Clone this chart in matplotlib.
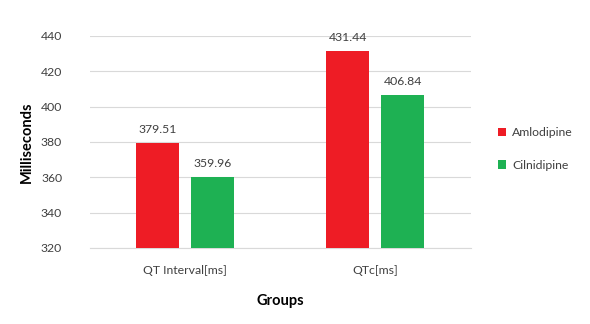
import matplotlib.pyplot as plt
import numpy as np

plt.rcParams['font.family'] = ['Lato', 'DejaVu Sans']

groups = ["QT Interval[ms]", "QTc[ms]"]
amlodipine = [379.51, 431.44]
cilnidipine = [359.96, 406.84]
series_names = ["Amlodipine", "Cilnidipine"]
colors = ["#ee1c25", "#1eb153"]

fig = plt.figure(figsize=(5.9, 3.24), dpi=100)
ax = fig.add_axes([0.1525, 0.2346, 0.645, 0.6544])

x = np.arange(len(groups))
w = 0.226
off = 0.145
b1 = ax.bar(x - off, amlodipine, w, color=colors[0], label=series_names[0], zorder=3)
b2 = ax.bar(x + off, cilnidipine, w, color=colors[1], label=series_names[1], zorder=3)

for bars, vals in [(b1, amlodipine), (b2, cilnidipine)]:
    for b, v in zip(bars, vals):
        ax.text(b.get_x() + b.get_width() / 2, v + 4.5, f"{v:.2f}",
                ha="center", va="bottom", fontsize=8.8, color="#404040")

ax.set_xlim(-0.5, 1.5)
ax.set_ylim(320, 440)
ax.set_yticks(range(320, 441, 20))
ax.set_xticks(x)
ax.set_xticklabels(groups)
ax.tick_params(axis="both", length=0, labelsize=8.8, labelcolor="#404040")
ax.tick_params(axis="y", pad=20)
ax.tick_params(axis="x", pad=12)
ax.grid(axis="y", color="#d9d9d9", linewidth=0.8, zorder=0)
for s in ["top", "right", "left"]:
    ax.spines[s].set_visible(False)
ax.spines["bottom"].set_color("#d9d9d9")

ax.set_ylabel("Milliseconds", fontsize=10.5, fontweight="bold", labelpad=5)
ax.set_xlabel("Groups", fontsize=10.5, fontweight="bold", labelpad=13)

fig.legend(loc="center left", bbox_to_anchor=(0.825, 0.54), frameon=False,
           fontsize=8.8, handlelength=0.7, handleheight=0.7, labelspacing=1.75,
           handletextpad=0.5, labelcolor="#404040")

fig.savefig("out.png", dpi=100)
